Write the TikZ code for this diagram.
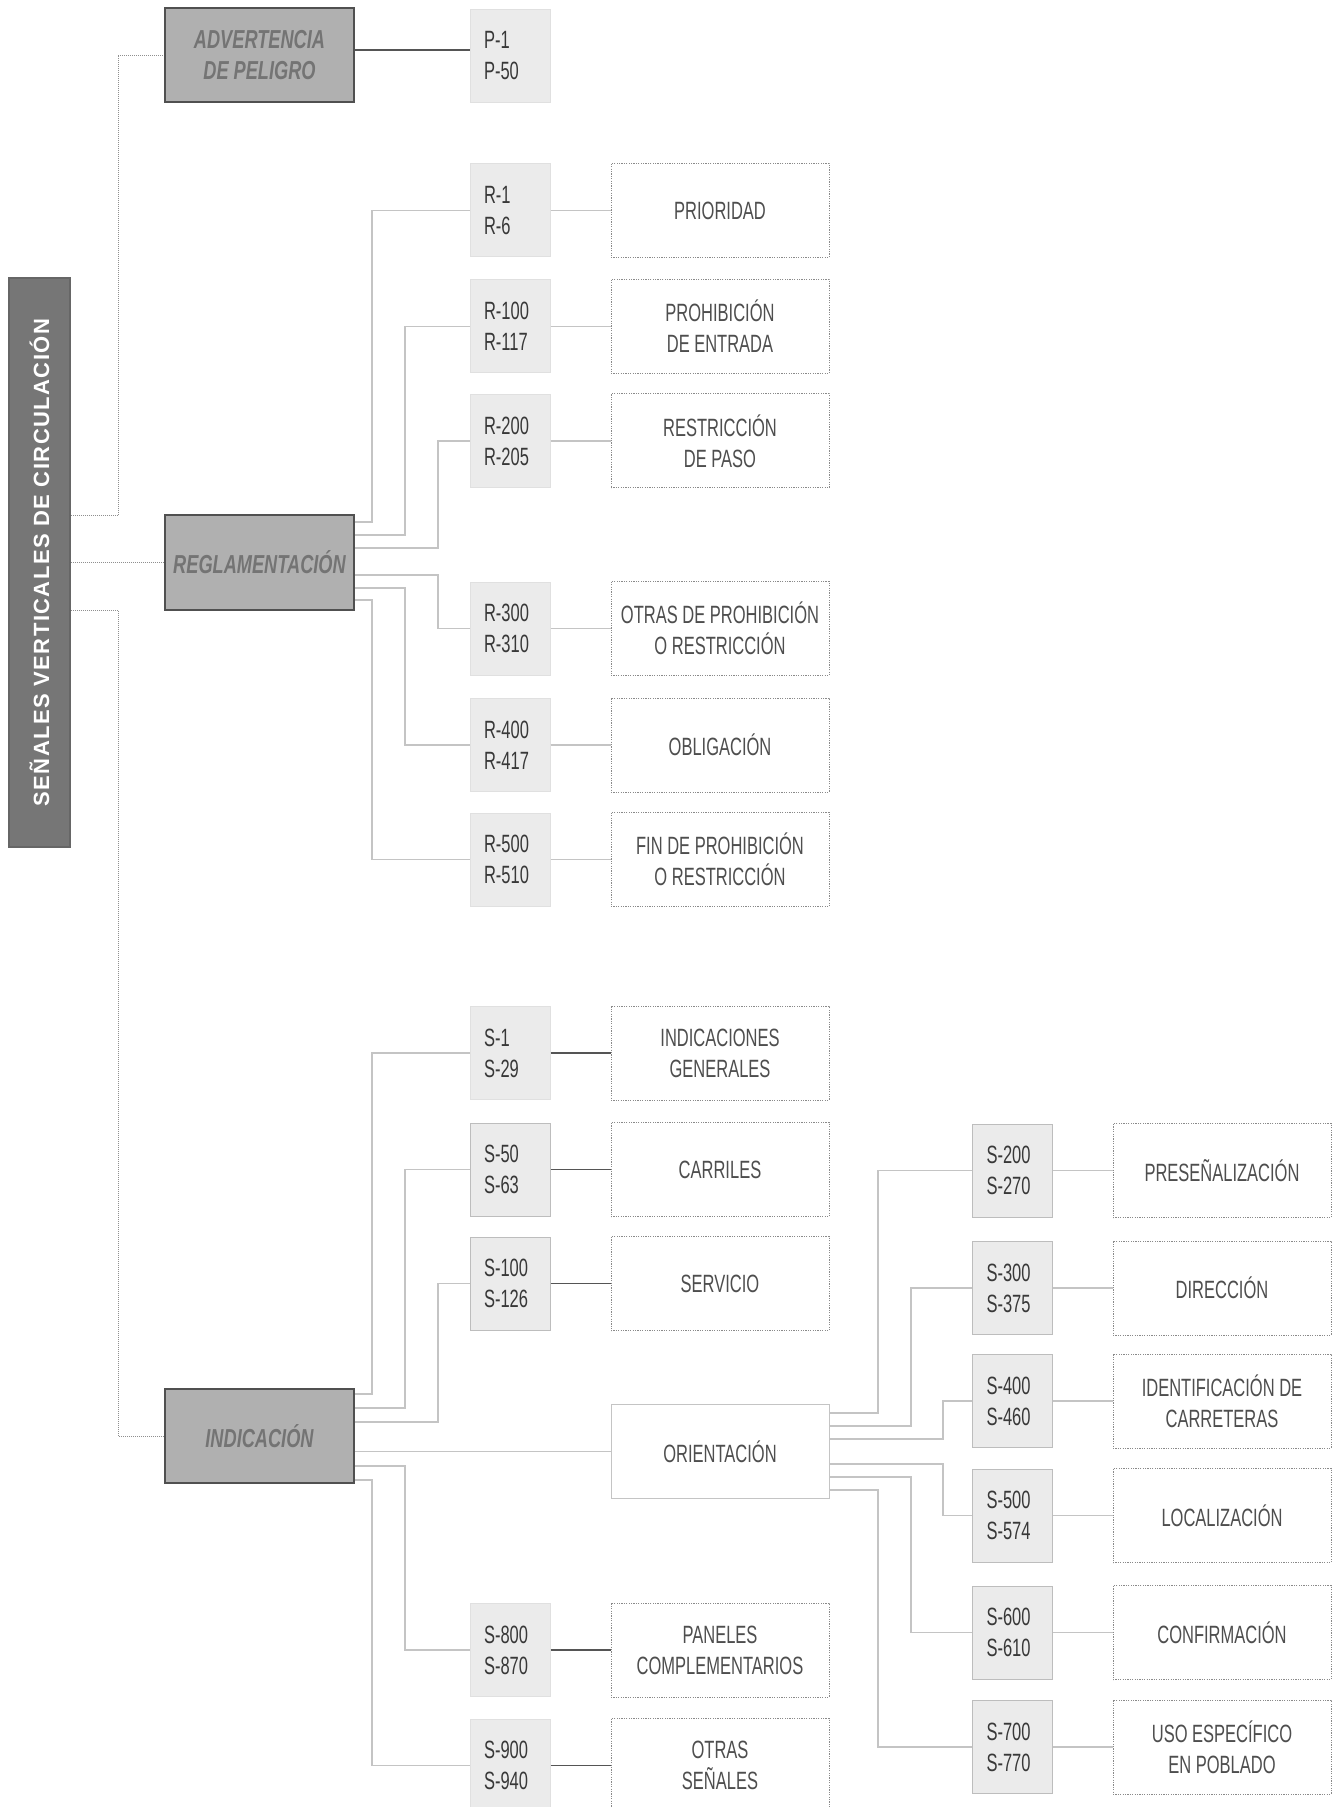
\documentclass[tikz,border=0pt]{standalone}
\usepackage{fontspec}
\setmainfont{Liberation Sans}
\newfontfamily\cnd{Liberation Sans}[FakeStretch=0.66]
\newfontfamily\cndc{Liberation Sans}[FakeStretch=0.7]
\newfontfamily\ttlfont{Liberation Sans}[LetterSpace=6.5]
\usetikzlibrary{calc}
\definecolor{titlefill}{HTML}{767676}
\definecolor{titleborder}{HTML}{666666}
\definecolor{catfill}{HTML}{B0B0B0}
\definecolor{catborder}{HTML}{505050}
\definecolor{cattext}{HTML}{747474}
\definecolor{codefill}{HTML}{EBEBEB}
\definecolor{codeborder}{HTML}{E0E0E0}
\definecolor{codeborderdk}{HTML}{BDBDBD}
\definecolor{codetext}{HTML}{383838}
\definecolor{descborder}{HTML}{8A8A8A}
\definecolor{desctext}{HTML}{4E4E4E}
\definecolor{dotcol}{HTML}{8F8F8F}
\definecolor{thincol}{HTML}{C4C4C4}
\definecolor{darkcol}{HTML}{555555}
\begin{document}
\begin{tikzpicture}[x=0.5pt,y=-0.5pt,
  titlebox/.style={draw=titleborder, fill=titlefill, line width=0.75pt, minimum width=30.5pt, minimum height=284.5pt, inner sep=0pt},
  catbox/.style={draw=catborder, fill=catfill, line width=1pt, minimum width=94.5pt, minimum height=47pt, inner sep=0pt, font=\cndc\bfseries\itshape\fontsize{13}{15.5}\selectfont, text=cattext, align=center},
  codebox/.style={fill=codefill, draw=codeborder, line width=0.5pt, minimum width=40pt, minimum height=46.5pt, inner sep=0pt, font=\cnd\fontsize{12.5}{15.5}\selectfont, text=codetext, align=left, text width=26pt},
  codeboxdk/.style={codebox, draw=codeborderdk},
  descbox/.style={draw=descborder, dash pattern=on 0.6pt off 0.6pt, line width=0.5pt, fill=white, minimum width=109pt, minimum height=47pt, inner sep=0pt, font=\cnd\fontsize{12.5}{15.5}\selectfont, text=desctext, align=center},
  orientbox/.style={descbox, solid, draw=thincol},
  catlink/.style={draw=dotcol, dash pattern=on 0.5pt off 0.5pt, line width=0.5pt},
  thinlink/.style={draw=thincol, line width=0.55pt},
  darklink/.style={draw=darkcol, line width=0.8pt}]
\useasboundingbox (0,0) rectangle (1337,1807);
\clip (0,0) rectangle (1337,1807);
\fill[white] (0,0) rectangle (1337,1807);

% title
\node[titlebox] (title) at (39.5,562.5) {};
\node[rotate=90, text=white, font=\ttlfont\bfseries\fontsize{11}{13}\selectfont] (titletext) at (title.center) {SEÑALES VERTICALES DE CIRCULACIÓN};

% categories
\node[catbox] (adv) at (259.5,55.5) {ADVERTENCIA\\DE PELIGRO};
\node[catbox] (reg) at (259.5,562.5) {REGLAMENTACIÓN};
\node[catbox] (ind) at (259.5,1436) {INDICACIÓN};

% codes column 1
\node[codebox] (p) at (510,56) {P-1\\P-50};
\node[codebox] (r1) at (510,210.5) {R-1\\R-6};
\node[codebox] (r100) at (510,326.5) {R-100\\R-117};
\node[codebox] (r200) at (510,441) {R-200\\R-205};
\node[codebox] (r300) at (510,628.5) {R-300\\R-310};
\node[codebox] (r400) at (510,745) {R-400\\R-417};
\node[codebox] (r500) at (510,859.5) {R-500\\R-510};
\node[codebox] (s1) at (510,1053) {S-1\\S-29};
\node[codeboxdk] (s50) at (510,1169.5) {S-50\\S-63};
\node[codeboxdk] (s100) at (510,1283.5) {S-100\\S-126};
\node[codebox] (s800) at (510,1650) {S-800\\S-870};
\node[codebox] (s900) at (510,1765.5) {S-900\\S-940};

% descriptions column 1
\node[descbox] (d1) at (720,210.5) {PRIORIDAD};
\node[descbox] (d100) at (720,326.5) {PROHIBICIÓN\\DE ENTRADA};
\node[descbox] (d200) at (720,441) {RESTRICCIÓN\\DE PASO};
\node[descbox] (d300) at (720,628.5) {OTRAS DE PROHIBICIÓN\\O RESTRICCIÓN};
\node[descbox] (d400) at (720,745) {OBLIGACIÓN};
\node[descbox] (d500) at (720,859.5) {FIN DE PROHIBICIÓN\\O RESTRICCIÓN};
\node[descbox] (ds1) at (720,1053) {INDICACIONES\\GENERALES};
\node[descbox] (ds50) at (720,1169.5) {CARRILES};
\node[descbox] (ds100) at (720,1283.5) {SERVICIO};
\node[orientbox] (orient) at (720,1451.5) {ORIENTACIÓN};
\node[descbox] (ds800) at (720,1650) {PANELES\\COMPLEMENTARIOS};
\node[descbox] (ds900) at (720,1765.5) {OTRAS\\SEÑALES};

% right column
\node[codeboxdk] (s200) at (1012.5,1170.5) {S-200\\S-270};
\node[codeboxdk] (s300) at (1012.5,1288) {S-300\\S-375};
\node[codeboxdk] (s400) at (1012.5,1401) {S-400\\S-460};
\node[codeboxdk] (s500) at (1012.5,1515.5) {S-500\\S-574};
\node[codeboxdk] (s600) at (1012.5,1632.5) {S-600\\S-610};
\node[codeboxdk] (s700) at (1012.5,1747) {S-700\\S-770};
\node[descbox] (ds200) at (1222,1170.5) {PRESEÑALIZACIÓN};
\node[descbox] (ds300) at (1222,1288) {DIRECCIÓN};
\node[descbox] (ds400) at (1222,1401) {IDENTIFICACIÓN DE\\CARRETERAS};
\node[descbox] (ds500) at (1222,1515.5) {LOCALIZACIÓN};
\node[descbox] (ds600) at (1222,1632.5) {CONFIRMACIÓN};
\node[descbox] (ds700) at (1222,1747) {USO ESPECÍFICO\\EN POBLADO};

% title -> categories
\draw[catlink] (title.east |- 0,516) -- (118,516) |- (adv.west);
\draw[catlink] (title.east |- reg.west) -- (reg.west);
\draw[catlink] (title.east |- 0,610) -- (118,610) |- (ind.west);

% advertencia
\draw[darklink] (adv.east |- 0,50) -- (p.west |- 0,50);

% reglamentacion
\draw[thinlink] (reg.east |- 0,522) -- (372,522) |- (r1.west);
\draw[thinlink] (reg.east |- 0,535) -- (405,535) |- (r100.west);
\draw[thinlink] (reg.east |- 0,548) -- (438,548) |- (r200.west);
\draw[thinlink] (reg.east |- 0,575) -- (438,575) |- (r300.west);
\draw[thinlink] (reg.east |- 0,588) -- (405,588) |- (r400.west);
\draw[thinlink] (reg.east |- 0,600) -- (372,600) |- (r500.west);
\foreach \a/\b in {r1/d1, r100/d100, r200/d200, r300/d300, r400/d400, r500/d500}
  \draw[thinlink] (\a.east) -- (\b.west);

% indicacion
\draw[thinlink] (ind.east |- 0,1394) -- (372,1394) |- (s1.west);
\draw[thinlink] (ind.east |- 0,1408) -- (405,1408) |- (s50.west);
\draw[thinlink] (ind.east |- 0,1422) -- (438,1422) |- (s100.west);
\draw[thinlink] (ind.east |- orient.west) -- (orient.west);
\draw[thinlink] (ind.east |- 0,1466) -- (405,1466) |- (s800.west);
\draw[thinlink] (ind.east |- 0,1480) -- (372,1480) |- (s900.west);
\foreach \a/\b in {s1/ds1, s50/ds50, s100/ds100, s800/ds800, s900/ds900}
  \draw[darklink] (\a.east) -- (\b.west);

% orientacion
\draw[thinlink] (orient.east |- 0,1413) -- (878,1413) |- (s200.west);
\draw[thinlink] (orient.east |- 0,1426) -- (911,1426) |- (s300.west);
\draw[thinlink] (orient.east |- 0,1439) -- (943,1439) |- (s400.west);
\draw[thinlink] (orient.east |- 0,1464) -- (943,1464) |- (s500.west);
\draw[thinlink] (orient.east |- 0,1477) -- (911,1477) |- (s600.west);
\draw[thinlink] (orient.east |- 0,1490) -- (878,1490) |- (s700.west);
\foreach \a/\b in {s200/ds200, s300/ds300, s400/ds400, s500/ds500, s600/ds600, s700/ds700}
  \draw[thinlink] (\a.east) -- (\b.west);
\end{tikzpicture}
\end{document}
